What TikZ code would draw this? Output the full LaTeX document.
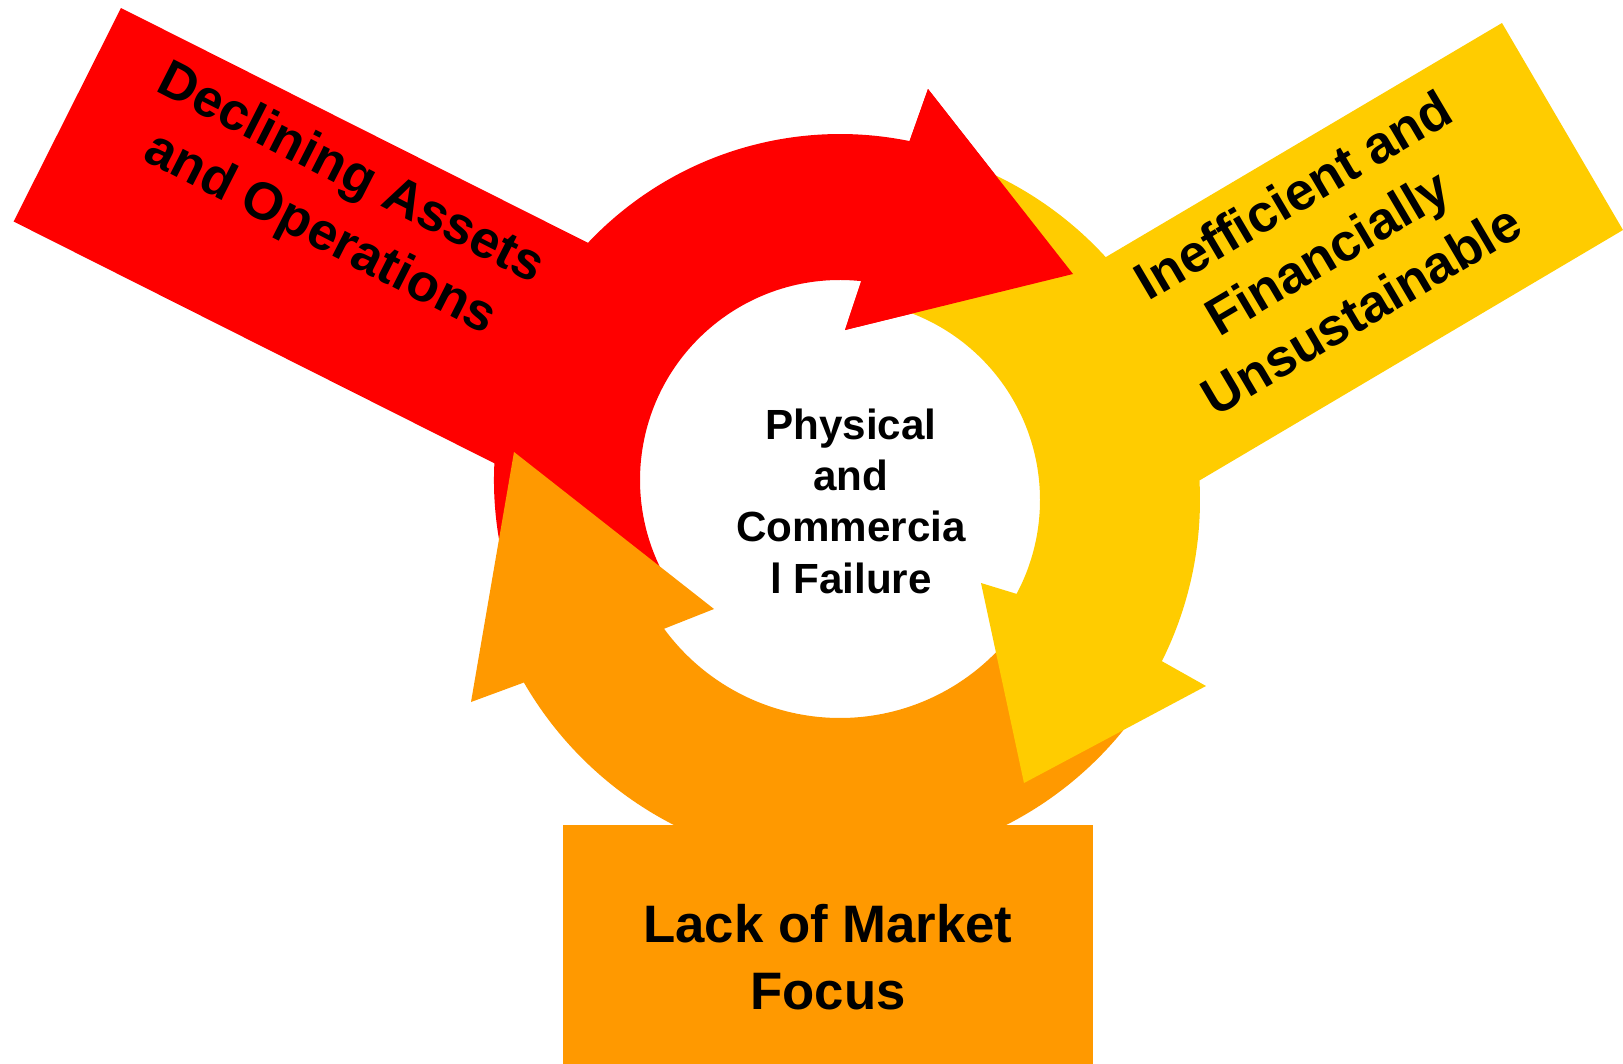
\documentclass[tikz,border=0pt]{standalone}
\usepackage{fontspec}
\setmainfont{Liberation Sans}
\usetikzlibrary{calc}
\definecolor{declred}{HTML}{FF0000}
\definecolor{lackorange}{HTML}{FF9900}
\definecolor{ineffyellow}{HTML}{FFCC00}

\begin{document}
\begin{tikzpicture}[x=0.1mm,y=-0.1mm,arrowtext/.style={font=\bfseries\fontsize{15}{19}\selectfont,align=center,inner sep=0pt},hubtext/.style={font=\bfseries\fontsize{12}{14.6}\selectfont,align=center,inner sep=0pt}] %
    \useasboundingbox (0,0) rectangle (1623,1064); %
    \coordinate (cr) at (840,480) ; % red ring
    \coordinate (cy) at (840,500) ; % orange and yellow rings
    % red arrow
    \fill[declred] (121,8) -- ++(26.7:600) -- ++(116.7:239) -- ++(206.7:600) -- cycle ; %
    \fill[declred] ($(cr)+(145:346)$) arc[start angle=145,end angle=281.6,radius=346] -- (928,89) -- (1073,274) -- (845,330) -- ($(cr)+(276.1:200)$) arc[start angle=276.1,end angle=145,radius=200] -- cycle ;
    % orange arrow
    \fill[lackorange] ($(cy)+(30:365)$) arc[start angle=30,end angle=150,radius=365] -- (471,702) -- (514,452) -- (714,609) -- ($(cy)+(143.8:218)$) arc[start angle=143.8,end angle=30,radius=218] -- cycle ;
    \fill[lackorange] (563,825) rectangle (1093,1064) ;
    % yellow arrow
    \fill[ineffyellow] (1502,23) -- (1623,230) -- ++(149.4:560) -- ++(239.4:240) -- cycle ; %
    \fill[ineffyellow] ($(cy)+(285:360)$) arc[start angle=285,end angle=386.6,radius=360] -- (1206,686) -- (1024,783) -- (981,583) -- ($(cy)+(388:200)$) arc[start angle=388,end angle=285,radius=200] -- cycle ;
    % red head again on top
    \fill[declred] ($(cr)+(281.6:346)$) -- (928,89) -- (1073,274) -- (845,330) -- ($(cr)+(276.1:200)$) -- cycle ;
    \node[arrowtext, rotate=-27] (decline) at (335,205) {Declining Assets\\and Operations} ;
    \node[arrowtext, rotate=30.6] (ineff) at (1327,252) {Inefficient and\\Financially\\Unsustainable} ;
    \node[arrowtext] (lack) at (828,957) {Lack of Market\\Focus} ;
    \node[hubtext] (fail) at (851,501) {Physical\\and\\Commercia\\l Failure} ;
\end{tikzpicture}
\end{document}
